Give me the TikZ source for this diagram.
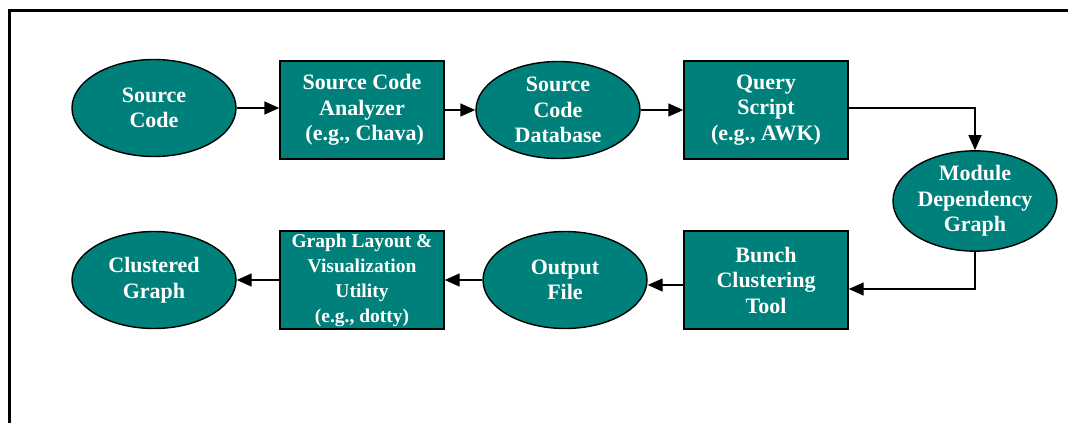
\documentclass[tikz,border=0pt]{standalone}
\usepackage{fontspec}
\setmainfont{Liberation Serif}
\usetikzlibrary{shapes.geometric,arrows.meta}
\definecolor{teal}{RGB}{0,128,122}
\begin{document}
\begin{tikzpicture}[x=1pt,y=-1pt,
  every node/.style={inner sep=0pt,text=white,align=center,
    font=\fontsize{22}{25.5}\selectfont\bfseries},
  blob/.style={ellipse,draw=black,line width=1.4pt,fill=teal,
    minimum width=164pt,minimum height=97pt},
  stepbox/.style={rectangle,draw=black,line width=1.4pt,fill=teal,
    minimum width=164pt,minimum height=98pt},
  flow/.style={line width=1.4pt,-{Triangle[length=15pt,width=13pt]}}]
  \useasboundingbox (0,0) rectangle (1068,423);
  % frame (top and left sides)
  \draw[line width=3pt] (9,423) -- (9,10) -- (1068,10);

  % upper row
  \node[blob]     (src) at (154,108) {Source\\Code};
  \node[stepbox]  (ana) at (362,110) {Source Code\\Analyzer\\\ (e.g., Chava)};
  \node[blob]     (db)  at (558,110) {Source\\Code\\Database};
  \node[stepbox]  (qry) at (766,110) {Query\\Script\\(e.g., AWK)};
  % right side
  \node[blob]     (mdg) at (975,201) {Module\\Dependency\\Graph};
  % lower row
  \node[stepbox]  (bct) at (766,280) {Bunch\\Clustering\\Tool};
  \node[blob]     (out) at (565,280) {Output\\File};
  \node[stepbox,font=\fontsize{19.5}{25}\selectfont\bfseries] (viz) at (362,280)
    {Graph Layout \&\\Visualization\\Utility\\(e.g., dotty)};
  \node[blob]     (clu) at (154,280) {Clustered\\Graph};

  % connectors
  \draw[flow] (src.east |- 0,108) -- (ana.west |- 0,108);
  \draw[flow] (ana.east) -- (db.west);
  \draw[flow] (db.east) -- (qry.west);
  \draw[flow] (qry.east |- 0,108) -| (mdg.north);
  \draw[flow] (mdg.south) |- (bct.east |- 0,289);
  \draw[flow] (bct.west |- 0,285) -- (out.east |- 0,285);
  \draw[flow] (out.west) -- (viz.east);
  \draw[flow] (viz.west) -- (clu.east);
\end{tikzpicture}
\end{document}
